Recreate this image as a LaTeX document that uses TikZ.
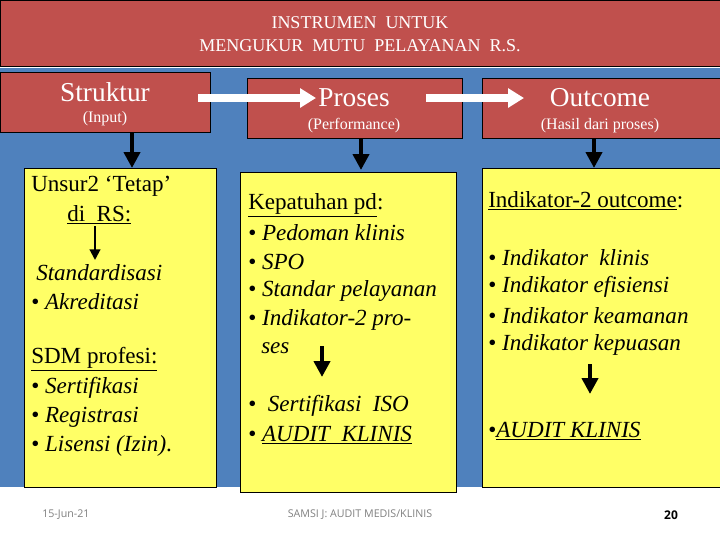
\documentclass[tikz,border=0pt]{standalone}
\usepackage{fontspec}
\setmainfont{Liberation Serif}[ItalicFont={Liberation Serif Italic},BoldFont={Liberation Serif Bold}]
\setsansfont{Open Sans}
\usetikzlibrary{arrows.meta}
\definecolor{rd}{HTML}{C0504D}
\definecolor{bl}{HTML}{4F81BD}
\definecolor{yl}{HTML}{FFFF66}
\begin{document}
\begin{tikzpicture}[x=0.75pt,y=-0.75pt,
  redbox/.style={draw=black,fill=rd},
  ybox/.style={draw=black,fill=yl},
  body/.style={anchor=west,inner sep=0pt,font=\rmfamily\fontsize{17.3}{19}\selectfont},
  ttl/.style={text=white,font=\fontsize{20.5}{22}\selectfont,inner sep=0pt},
  sub/.style={text=white,font=\fontsize{12}{13}\selectfont,inner sep=0pt},
  darr/.style={-{Triangle[length=12pt,width=12pt]},line width=3pt},
  warr/.style={-{Triangle[length=12pt,width=14pt]},line width=6pt,white},
  foot/.style={font=\sffamily\fontsize{8}{9}\selectfont,text=gray,inner sep=0pt}]
\useasboundingbox (0,0) rectangle (720,540);
\fill[white] (0,0) rectangle (720,540);
\fill[bl] (0,68) rectangle (720,487);
\draw[redbox] (0,0) rectangle (720,66);
\node[text=white,font=\fontsize{13.5}{17}\selectfont,align=center] (title) at (360,34) {INSTRUMEN\ \ UNTUK\\MENGUKUR\ \ MUTU\ \ PELAYANAN\ \ R.S.};
% header boxes
\draw[redbox] (0,72) rectangle (210,132);
\draw[redbox] (247,78) rectangle (462,138);
\draw[redbox] (482,78) rectangle (720,138);
\node[ttl] (s) at (105,92) {Struktur};
\node[sub] (si) at (105,119) {(Input)};
\node[ttl] (p) at (354,98) {Proses};
\node[sub] (pi) at (354,126) {(Performance)};
\node[ttl] (o) at (600,98) {Outcome};
\node[sub] (oi) at (600,126) {(Hasil dari proses)};
\coordinate (w1a) at (198,98); \coordinate (w1b) at (316,98);
\coordinate (w2a) at (426,98); \coordinate (w2b) at (524,98);
\draw[warr] (w1a) -- (w1b);
\draw[warr] (w2a) -- (w2b);
% yellow boxes
\draw[ybox] (24,168) rectangle (216,487);
\draw[ybox] (240,172) rectangle (456,492);
\draw[ybox] (482,168) rectangle (720,487);
\coordinate (d1a) at (132,132); \coordinate (d1b) at (132,168);
\coordinate (d2a) at (361,138); \coordinate (d2b) at (361,170);
\coordinate (d3a) at (594,138); \coordinate (d3b) at (594,168);
\draw[darr] (d1a) -- (d1b);
\draw[darr] (d2a) -- (d2b);
\draw[darr] (d3a) -- (d3b);
% left
\node[body] (l1) at (31,186) {Unsur2 ‘Tetap’};
\node[body] (l2) at (67,215) {\underline{di\ \ RS:}};
\coordinate (la) at (95,226); \coordinate (lb) at (95,260);
\draw[-{Triangle[length=8pt,width=8pt]},line width=1.5pt] (la) -- (lb);
\node[body] (l3) at (36,273) {\textit{Standardisasi}};
\node[body] (l4) at (31,302) {• \textit{Akreditasi}};
\node[body] (l5) at (31,359) {\underline{SDM profesi:}};
\node[body] (l6) at (31,388) {• \textit{Sertifikasi}};
\node[body] (l7) at (31,417) {• \textit{Registrasi}};
\node[body] (l8) at (31,446) {• \textit{Lisensi (Izin)}.};
% middle
\node[body] (m1) at (248,205) {\underline{Kepatuhan pd}:};
\node[body] (m2) at (248,233) {• \textit{Pedoman klinis}};
\node[body] (m3) at (248,262) {• \textit{SPO}};
\node[body] (m4) at (248,291) {• \textit{Standar pelayanan}};
\node[body] (m5) at (248,320) {• \textit{Indikator-2 pro-}};
\node[body] (m6) at (261,348) {\textit{ses}};
\coordinate (ma) at (322,346); \coordinate (mb) at (322,377);
\draw[darr] (ma) -- (mb);
\node[body] (m7) at (248,406) {•\ \ \textit{Sertifikasi\ \ ISO}};
\node[body] (m8) at (248,435) {• \textit{\underline{AUDIT\ \ KLINIS}}};
% right
\node[body] (r1) at (488,201) {\underline{Indikator-2 outcome}:};
\node[body] (r2) at (488,258) {• \textit{Indikator\ \ klinis}};
\node[body] (r3) at (488,287) {• \textit{Indikator efisiensi}};
\node[body] (r4) at (488,316) {• \textit{Indikator keamanan}};
\node[body] (r5) at (488,345) {• \textit{Indikator kepuasan}};
\coordinate (ra) at (590,364); \coordinate (rb) at (590,394);
\draw[darr] (ra) -- (rb);
\node[body] (r6) at (488,431) {•\textit{\underline{AUDIT KLINIS}}};
% footer
\node[foot,anchor=west] (f1) at (42,515) {15-Jun-21};
\node[foot] (f2) at (360,515) {SAMSI J: AUDIT MEDIS/KLINIS};
\node[font=\sffamily\bfseries\fontsize{9}{10}\selectfont,inner sep=0pt] (f3) at (671,515) {20};
\end{tikzpicture}
\end{document}
